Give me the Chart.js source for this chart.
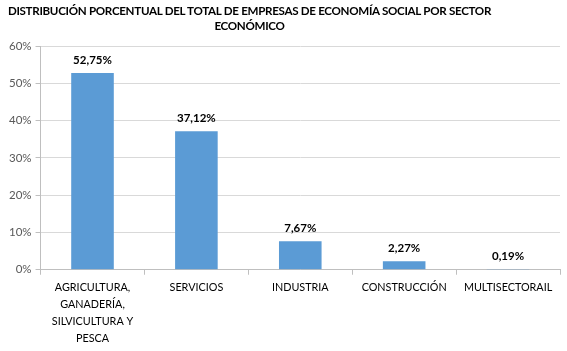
<!DOCTYPE html>
<html>
<head>
<meta charset="utf-8">
<script src="https://cdn.jsdelivr.net/npm/chart.js@4"></script>
<style>
  body { margin: 0; background: #fff; }
  #wrap { position: relative; width: 567px; height: 351px; }
  #titulo {
    position: absolute; left: -34px; top: 3px; width: 567px; white-space: nowrap;
    text-align: center; font: bold 11.6px Lato, sans-serif; letter-spacing: -0.3px;
    color: #000; line-height: 15px;
  }
</style>
</head>
<body>
<div id="wrap">
  <canvas id="chart-series" width="567" height="351"></canvas>
  <div id="titulo">DISTRIBUCIÓN PORCENTUAL DEL TOTAL DE EMPRESAS DE ECONOMÍA SOCIAL POR SECTOR<br>ECONÓMICO</div>
</div>
<script>
const sectores = [
  ['AGRICULTURA,', 'GANADERÍA,', 'SILVICULTURA Y', 'PESCA'],
  'SERVICIOS',
  'INDUSTRIA',
  'CONSTRUCCIÓN',
  'MULTISECTORAIL'
]
const porcentajes = [52.75, 37.12, 7.67, 2.27, 0.19]
const etiquetas = ['52,75%', '37,12%', '7,67%', '2,27%', '0,19%']

const chartSeries = document.getElementById('chart-series')

// etiquetas encima de las barras
const etiquetasPlugin = {
  id: 'etiquetas',
  afterDatasetsDraw(chart) {
    const ctx = chart.ctx
    const meta = chart.getDatasetMeta(0)
    ctx.save()
    ctx.font = 'bold 11.5px Lato, sans-serif'
    ctx.fillStyle = '#000'
    ctx.textAlign = 'center'
    ctx.textBaseline = 'bottom'
    meta.data.forEach((bar, i) => {
      ctx.fillText(etiquetas[i], bar.x, bar.y - 7)
    })
    ctx.restore()
  }
}

const config = {
  type: 'bar',
  data: {
    labels: sectores,
    datasets: [{
      data: porcentajes,
      backgroundColor: '#5b9bd5',
      borderWidth: 0,
      categoryPercentage: 1,
      barPercentage: 0.41
    }]
  },
  options: {
    responsive: false,
    animation: false,
    layout: { padding: { top: 46, right: 7, left: 5, bottom: 0 } },
    plugins: {
      legend: { display: false },
      tooltip: { enabled: false }
    },
    scales: {
      y: {
        min: 0,
        max: 60,
        ticks: {
          stepSize: 10,
          color: '#595959',
          font: { family: 'Lato', size: 11.5 },
          padding: 4,
          callback: v => v + '%'
        },
        grid: { color: '#d9d9d9', tickLength: 5, tickColor: '#bfbfbf' },
        border: { color: '#bfbfbf' }
      },
      x: {
        ticks: {
          color: '#000',
          font: { family: 'Lato', size: 10.8, lineHeight: 1.58 },
          padding: 4,
          maxRotation: 0,
          autoSkip: false
        },
        grid: { drawOnChartArea: false, tickLength: 5, color: '#bfbfbf', offset: true },
        border: { color: '#bfbfbf' }
      }
    }
  },
  plugins: [etiquetasPlugin]
}
new Chart(chartSeries, config)
</script>
</body>
</html>
